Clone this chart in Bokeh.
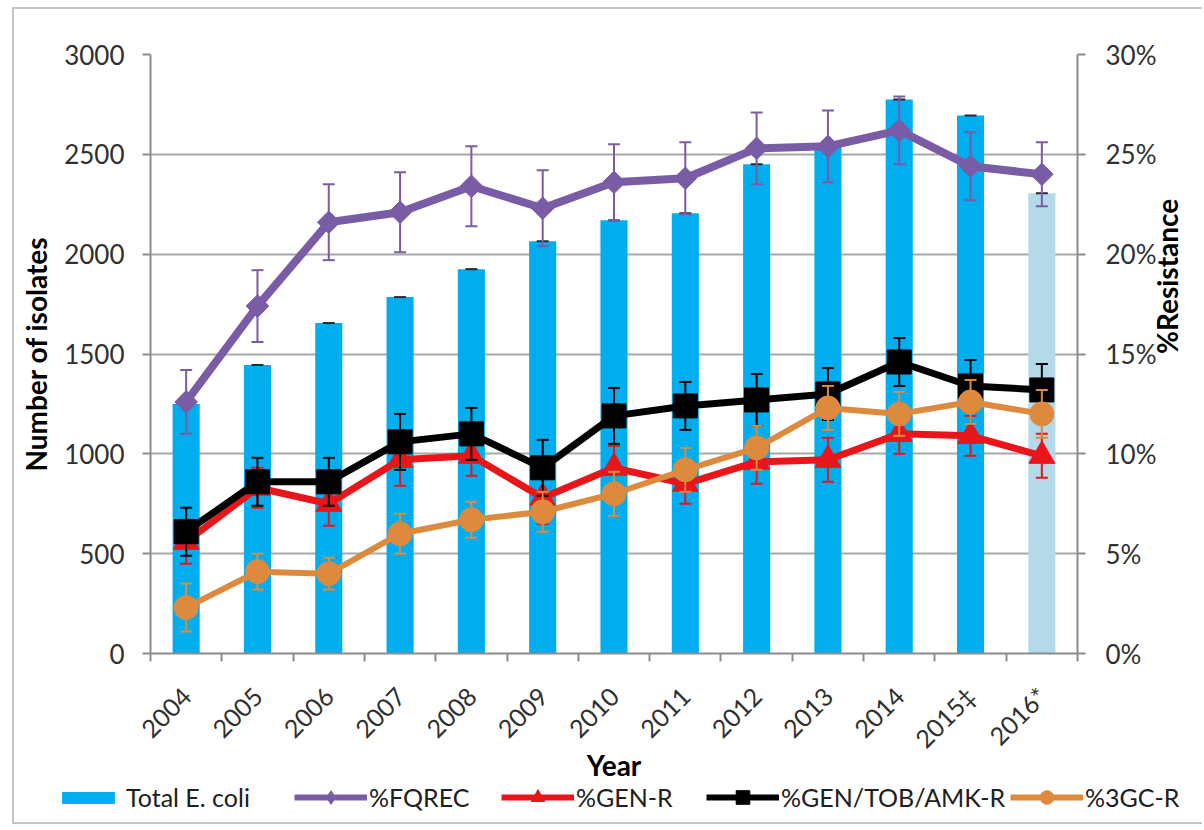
import math
import numpy as np
from bokeh.plotting import figure
from bokeh.models import (Range1d, LinearAxis, FixedTicker, Legend, LegendItem,
                          PrintfTickFormatter)
from bokeh.embed import file_html
from bokeh.resources import INLINE

# ---- data -------------------------------------------------------------
years = ["2004", "2005", "2006", "2007", "2008", "2009", "2010", "2011",
         "2012", "2013", "2014", "2015\u2021", "2016*"]
total_ecoli = [1250, 1445, 1655, 1785, 1925, 2065, 2170, 2205, 2450, 2540,
               2775, 2695, 2305]

fqrec = [12.6, 17.4, 21.6, 22.1, 23.4, 22.3, 23.6, 23.8, 25.3, 25.4, 26.2, 24.4, 24.0]
fqrec_err = [1.6, 1.8, 1.9, 2.0, 2.0, 1.9, 1.9, 1.8, 1.8, 1.8, 1.7, 1.7, 1.6]

gen_r = [5.6, 8.3, 7.5, 9.7, 9.9, 7.8, 9.3, 8.5, 9.6, 9.7, 11.0, 10.9, 9.9]
gen_r_err = [1.1, 1.0, 1.1, 1.3, 1.0, 1.3, 1.1, 1.0, 1.1, 1.1, 1.0, 1.0, 1.1]

gta_r = [6.1, 8.6, 8.6, 10.6, 11.0, 9.3, 11.9, 12.4, 12.7, 13.0, 14.6, 13.4, 13.2]
gta_r_err = [1.2, 1.2, 1.2, 1.4, 1.3, 1.4, 1.4, 1.2, 1.3, 1.3, 1.2, 1.3, 1.3]

c3gc_r = [2.3, 4.1, 4.0, 6.0, 6.7, 7.1, 8.0, 9.2, 10.3, 12.3, 12.0, 12.6, 12.0]
c3gc_r_err = [1.2, 0.9, 0.8, 1.0, 0.9, 1.0, 1.1, 1.1, 1.1, 1.1, 1.1, 1.1, 1.2]

count_ticks = [0, 500, 1000, 1500, 2000, 2500, 3000]
pct_ticks = [0, 5, 10, 15, 20, 25, 30]

# ---- styling ----------------------------------------------------------
FONT = "Lato"
AXIS_GRAY = "#8c8c8c"
FRAME_GRAY = "2px solid #c4c4c4"
BAR_BLUE = "#00AEEF"
BAR_LIGHT = "#B4D9E8"
CAP_DARK = "#1f2a3a"

# (colour, marker, marker size, line width, marker angle, legend-key marker)
STYLE = {
    "%FQREC": ("#7A5CA6", "square", 16, 8, math.pi / 4, "diamond"),
    "%GEN-R": ("#E8161B", "triangle", 26, 7, 0.0, "triangle"),
    "%GEN/TOB/AMK-R": ("#000000", "square", 24, 7, 0.0, "square"),
    "%3GC-R": ("#DE8A3E", "circle", 24, 6, 0.0, "circle"),
}

n = len(years)
xc = np.arange(n) + 0.5          # category centres
edges = list(range(n + 1))       # category boundaries (tick marks)
bar_colors = [BAR_LIGHT if y.endswith("*") else BAR_BLUE for y in years]

W = 1190
p = figure(width=W, height=775, x_range=Range1d(0, n),
           y_range=Range1d(count_ticks[0], count_ticks[-1]),
           output_backend="svg", toolbar_location=None,
           min_border_left=136, min_border_right=126,
           min_border_top=45, min_border_bottom=131,
           margin=(7, 0, 0, 12),
           styles={"border-left": FRAME_GRAY, "border-top": FRAME_GRAY})
p.extra_y_ranges = {"pct": Range1d(pct_ticks[0], pct_ticks[-1])}
p.outline_line_color = None

# grid
p.xgrid.visible = False
p.ygrid.ticker = FixedTicker(ticks=count_ticks)
p.ygrid.grid_line_color = "#a8a8a8"
p.ygrid.grid_line_width = 2

# left axis
ya = p.yaxis[0]
ya.ticker = FixedTicker(ticks=count_ticks)
ya.axis_label = "Number of isolates"
ya.minor_tick_line_color = None

# right axis
ra = LinearAxis(y_range_name="pct", ticker=FixedTicker(ticks=pct_ticks),
                formatter=PrintfTickFormatter(format="%d%%"),
                axis_label="%Resistance")
ra.minor_tick_line_color = None
ra.axis_label_orientation = math.pi / 2
p.add_layout(ra, "right")

# bottom axis: labels at centres, tick marks at boundaries
xa = p.xaxis[0]
xa.ticker = FixedTicker(ticks=list(xc), minor_ticks=edges)
xa.major_label_overrides = {float(c): lab for c, lab in zip(xc, years)}
xa.major_label_orientation = math.pi / 4
xa.major_tick_line_color = None
xa.major_tick_out = 8
xa.minor_tick_in = 0
xa.minor_tick_out = 8
xa.minor_tick_line_color = AXIS_GRAY
xa.minor_tick_line_width = 2
xa.axis_label = "Year"

for ax in (ya, ra, xa):
    ax.axis_line_color = AXIS_GRAY
    ax.axis_line_width = 2
    ax.major_label_text_font = FONT
    ax.major_label_text_font_size = "26px"
    ax.major_label_text_color = "#303030"
    ax.axis_label_text_font = FONT
    ax.axis_label_text_font_size = "28px"
    ax.axis_label_text_font_style = "bold"
    ax.axis_label_text_color = "black"
for ax in (ya, ra):
    ax.major_tick_line_color = AXIS_GRAY
    ax.major_tick_line_width = 2
    ax.major_tick_in = 0
    ax.major_tick_out = 8
ya.major_label_standoff = 18
ya.axis_label_standoff = 8
ra.major_label_standoff = 20
ra.axis_label_standoff = 8
xa.major_label_text_font_size = "25px"
xa.major_label_standoff = 30
xa.axis_label_standoff = -19

# ---- bars -------------------------------------------------------------
p.vbar(x=xc, top=total_ecoli, width=0.38, fill_color=bar_colors, line_color=None)
p.scatter(xc, total_ecoli, marker="dash", size=12, line_color=CAP_DARK,
          line_width=2)


# ---- resistance series with error bars --------------------------------
def series(name, vals, errs):
    color, marker, msize, lw, angle, _ = STYLE[name]
    lo = [v - e for v, e in zip(vals, errs)]
    hi = [v + e for v, e in zip(vals, errs)]
    p.segment(x0=xc, y0=lo, x1=xc, y1=hi, line_color=color, line_width=2,
              y_range_name="pct")
    for ends in (hi, lo):
        p.scatter(xc, ends, marker="dash", size=12, line_color=color,
                  line_width=2, y_range_name="pct")
    p.line(xc, vals, line_color=color, line_width=lw, y_range_name="pct")
    p.scatter(xc, vals, marker=marker, size=msize, fill_color=color,
              line_color=color, angle=angle, y_range_name="pct")


series("%FQREC", fqrec, fqrec_err)
series("%GEN-R", gen_r, gen_r_err)
series("%GEN/TOB/AMK-R", gta_r, gta_r_err)
series("%3GC-R", c3gc_r, c3gc_r_err)

# ---- legend strip underneath the chart (own canvas, keys only) --------
q = figure(width=W, height=42, x_range=Range1d(0, 1), y_range=Range1d(0, 1),
           output_backend="svg", toolbar_location=None, min_border=0,
           x_axis_location=None, y_axis_location=None,
           margin=(0, 0, 0, 12),
           styles={"border-left": FRAME_GRAY, "border-bottom": FRAME_GRAY})
q.grid.visible = False
q.outline_line_color = None

nan = [float("nan")]


def add_key(item, x, y, glyph_w, glyph_h, standoff):
    lg = Legend(items=[item], orientation="horizontal", location=(x, y))
    lg.glyph_width = glyph_w
    lg.glyph_height = glyph_h
    lg.label_text_font = FONT
    lg.label_text_font_size = "25px"
    lg.label_text_color = "#202020"
    lg.label_standoff = standoff
    lg.padding = 0
    lg.margin = 0
    lg.border_line_color = None
    lg.background_fill_alpha = 0
    q.add_layout(lg, "center")


bar_key = q.vbar(x=nan, top=nan, width=0.1, fill_color=BAR_BLUE, line_color=None)
add_key(LegendItem(label="Total E. coli", renderers=[bar_key]), 41, 12, 66, 15, 5)

key_x = {"%FQREC": 280, "%GEN-R": 487, "%GEN/TOB/AMK-R": 692, "%3GC-R": 996}
for name, (color, _, _, _, _, key_marker) in STYLE.items():
    ln = q.line(x=nan, y=nan, line_color=color, line_width=6)
    mk = q.scatter(x=nan, y=nan, marker=key_marker, fill_color=color,
                   line_color=color)
    add_key(LegendItem(label=name, renderers=[ln, mk]), key_x[name], 10, 73, 34, 2)

open("out.html", "w").write(file_html([p, q], INLINE))
